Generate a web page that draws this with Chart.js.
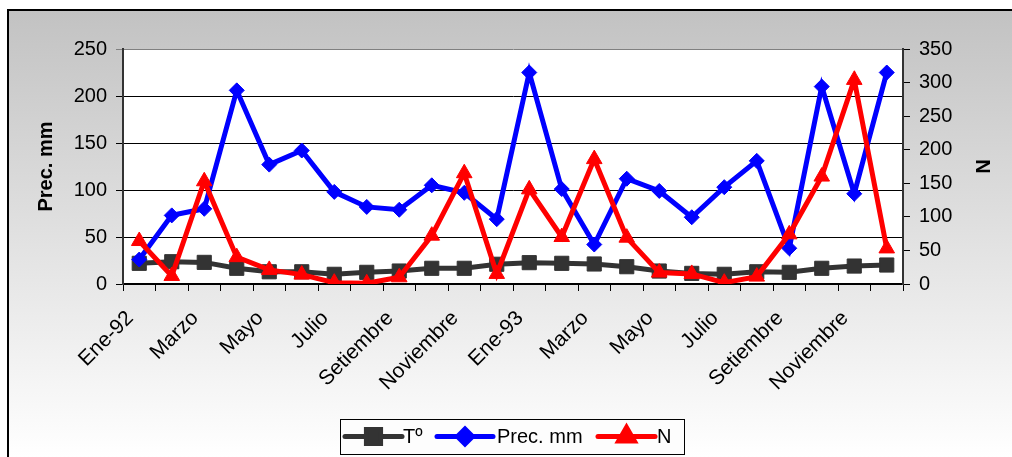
<!DOCTYPE html>
<html>
<head>
<meta charset="utf-8">
<style>
  html, body { margin: 0; padding: 0; background: #fff; }
  #wrap { width: 1012px; height: 457px; position: relative; }
</style>
<script src="https://cdn.jsdelivr.net/npm/chart.js@4.4.1/dist/chart.umd.min.js"></script>
</head>
<body>
<div id="wrap"><canvas id="chart" width="1012" height="457"></canvas></div>
<script>
// Monthly series, January 1992 to December 1993
const categories = [
  'Ene-92', 'Febrero', 'Marzo', 'Abril', 'Mayo', 'Junio', 'Julio', 'Agosto',
  'Setiembre', 'Octubre', 'Noviembre', 'Diciembre',
  'Ene-93', 'Febrero', 'Marzo', 'Abril', 'Mayo', 'Junio', 'Julio', 'Agosto',
  'Setiembre', 'Octubre', 'Noviembre', 'Diciembre'
];
const temperatura = [22, 23.7, 23, 16.7, 13, 13, 10.3, 12.4, 13.8, 16.7, 16.7, 21,
                     22.7, 22, 21.3, 18.4, 13.8, 11.3, 10.3, 13, 12.4, 16.7, 19.1, 20.2];
const precipitacion = [26, 73, 80, 206, 127, 142, 98, 82, 79, 105, 97, 69,
                       225, 101, 42, 112, 99, 71, 103, 131, 38, 210, 96, 225];
const nValues = [64, 12, 153, 40, 21, 14, 2, 1, 10, 72, 165, 15,
                 141, 70, 186, 69, 17, 15, 2, 11, 74, 160, 304, 53];
const leftTicks = [0, 50, 100, 150, 200, 250];
const rightTicks = [0, 50, 100, 150, 200, 250, 300, 350];
const seriesNames = ['Tº', 'Prec. mm', 'N'];

const FONT = 'Liberation Sans, Arial, sans-serif';
const colors = ['#333333', '#0000ff', '#ff0000'];
const markers = ['rect', 'rectRot', 'triangle'];
const radii = [10, 7.5, 9];

// Sheet background, frame and white plot area
const backdrop = {
  id: 'backdrop',
  beforeDraw(chart) {
    const { ctx, width, height, chartArea: a } = chart;
    ctx.save();
    ctx.fillStyle = '#ffffff';
    ctx.fillRect(0, 0, width, height);
    const g = ctx.createLinearGradient(0, 9, 0, height);
    g.addColorStop(0, '#c2c2c2');
    g.addColorStop(1, '#ffffff');
    ctx.fillStyle = g;
    ctx.fillRect(8, 9, width - 8, height - 9);
    ctx.fillStyle = '#000';
    ctx.fillRect(7, 9, width - 7, 2);
    ctx.fillRect(7, 9, 2, height - 9);
    ctx.fillStyle = '#ffffff';
    ctx.fillRect(a.left, a.top, a.right - a.left, a.bottom - a.top);
    ctx.restore();
  }
};

// Boxed legend with line-and-marker samples
const boxLegend = {
  id: 'boxLegend',
  afterDraw(chart) {
    const { ctx } = chart;
    const box = { x: 340, y: 419, w: 344, h: 35 };
    const cy = box.y + box.h / 2;
    ctx.save();
    ctx.fillStyle = '#fdfdfd';
    ctx.fillRect(box.x, box.y, box.w, box.h);
    ctx.strokeStyle = '#000';
    ctx.lineWidth = 1;
    ctx.strokeRect(box.x + 0.5, box.y + 0.5, box.w, box.h);
    ctx.font = '20px ' + FONT;
    ctx.textBaseline = 'middle';
    ctx.fillStyle = '#000';
    const items = [
      { x0: 345, x1: 402, tx: 403 },
      { x0: 437, x1: 493, tx: 497 },
      { x0: 598, x1: 655, tx: 657 }
    ];
    items.forEach((it, i) => {
      ctx.strokeStyle = colors[i];
      ctx.lineWidth = 5;
      ctx.lineCap = 'round';
      ctx.beginPath();
      ctx.moveTo(it.x0, cy);
      ctx.lineTo(it.x1, cy);
      ctx.stroke();
      ctx.fillStyle = colors[i];
      Chart.helpers.drawPoint(ctx, {
        pointStyle: markers[i], radius: radii[i], rotation: 0, borderWidth: 1
      }, (it.x0 + it.x1) / 2, cy);
      ctx.fillStyle = '#000';
      ctx.fillText(seriesNames[i], it.tx, cy + 1);
    });
    ctx.restore();
  }
};

function lineSet(label, data, i, axis, order) {
  return {
    label, data, yAxisID: axis, order,
    borderColor: colors[i], backgroundColor: colors[i],
    borderWidth: 5, tension: 0,
    pointStyle: markers[i], pointRadius: radii[i],
    pointBorderColor: colors[i], pointBackgroundColor: colors[i],
    pointBorderWidth: 1, pointHoverRadius: radii[i]
  };
}

new Chart(document.getElementById('chart'), {
  type: 'line',
  data: {
    labels: categories,
    datasets: [
      lineSet(seriesNames[0], temperatura, 0, 'y', 3),
      lineSet(seriesNames[1], precipitacion, 1, 'y', 2),
      lineSet(seriesNames[2], nValues, 2, 'y1', 1)
    ]
  },
  options: {
    responsive: false,
    animation: false,
    devicePixelRatio: 1,
    layout: { padding: { top: 49, left: 0, right: 0, bottom: 0 } },
    plugins: { legend: { display: false }, tooltip: { enabled: false } },
    scales: {
      x: {
        type: 'category',
        offset: true,
        grid: { offset: true, drawOnChartArea: false, tickLength: 7, color: '#000', lineWidth: 1 },
        border: { color: '#000', width: 2 },
        ticks: {
          autoSkip: false, minRotation: 45, maxRotation: 45, padding: 15, labelOffset: -9,
          color: '#000', font: { family: FONT, size: 21 },
          callback: (v, i) => (i % 2 === 0 ? categories[i] : '')
        },
        afterFit: s => { s.height = 173; }
      },
      y: {
        position: 'left', min: 0, max: 250,
        afterBuildTicks: s => { s.ticks = leftTicks.map(v => ({ value: v })); },
        grid: {
          color: c => (c.tick && c.tick.value === 250 ? '#808080' : '#000'),
          tickLength: 7, lineWidth: 1
        },
        border: { color: '#333', width: 2 },
        ticks: { color: '#000', padding: 9, font: { family: FONT, size: 20 } },
        title: {
          display: true, text: 'Prec. mm', color: '#000',
          font: { family: FONT, size: 20, weight: 'bold' }, padding: { top: 34 }
        },
        afterFit: s => { s.width = 123; }
      },
      y1: {
        position: 'right', min: 0, max: 350,
        afterBuildTicks: s => { s.ticks = rightTicks.map(v => ({ value: v })); },
        grid: { drawOnChartArea: false, tickLength: 7, color: '#000', lineWidth: 1 },
        border: { color: '#333', width: 2 },
        ticks: { color: '#000', padding: 9, font: { family: FONT, size: 20 } },
        title: {
          display: true, text: 'N', color: '#000',
          font: { family: FONT, size: 20, weight: 'bold' }, padding: { top: 18 }
        },
        afterFit: s => { s.width = 109; }
      }
    }
  },
  plugins: [backdrop, boxLegend]
});
</script>
</body>
</html>
